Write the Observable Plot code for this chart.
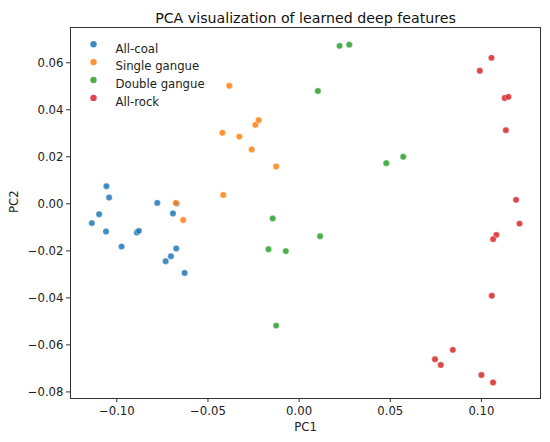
<!DOCTYPE html>
<html>
<head>
<meta charset="utf-8">
<script src="https://cdn.jsdelivr.net/npm/d3@7"></script>
<script src="https://cdn.jsdelivr.net/npm/@observablehq/plot@0.6"></script>
<style>
  html, body { margin: 0; padding: 0; background: #fff; }
  #chart { width: 550px; height: 442px; }
</style>
</head>
<body>
<div id="chart"></div>
<script>
const categories = ["All-coal", "Single gangue", "Double gangue", "All-rock"];
const colors = ["#1f77b4", "#ff7f0e", "#2ca02c", "#d62728"];

const allCoalPC1 = [-0.1057, -0.1042, -0.0778, -0.0672, -0.0692, -0.1097, -0.1137, -0.1059, -0.0974, -0.0890, -0.0879, -0.0674, -0.0703, -0.0732, -0.0628];
const allCoalPC2 = [0.0075, 0.0027, 0.0004, 0.0001, -0.0041, -0.0044, -0.0082, -0.0118, -0.0182, -0.0122, -0.0115, -0.0190, -0.0223, -0.0244, -0.0294];

const singlePC1 = [-0.0383, -0.0421, -0.0328, -0.0240, -0.0222, -0.0260, -0.0126, -0.0416, -0.0676, -0.0636];
const singlePC2 = [0.0502, 0.0302, 0.0286, 0.0336, 0.0356, 0.0231, 0.0159, 0.0038, 0.0004, -0.0069];

const doublePC1 = [-0.0145, -0.0168, -0.0073, -0.0126, 0.0222, 0.0275, 0.0103, 0.0478, 0.0571, 0.0115];
const doublePC2 = [-0.0062, -0.0193, -0.0201, -0.0518, 0.0672, 0.0677, 0.0480, 0.0173, 0.0200, -0.0138];

const rockPC1 = [0.1055, 0.0991, 0.1128, 0.1148, 0.1134, 0.1190, 0.1209, 0.1082, 0.1064, 0.1057, 0.0843, 0.0745, 0.0777, 0.1000, 0.1064];
const rockPC2 = [0.0621, 0.0566, 0.0450, 0.0455, 0.0313, 0.0017, -0.0084, -0.0132, -0.0150, -0.0391, -0.0621, -0.0661, -0.0685, -0.0728, -0.0760];

const xTicks = [-0.10, -0.05, 0.00, 0.05, 0.10];
const yTicks = [-0.08, -0.06, -0.04, -0.02, 0.00, 0.02, 0.04, 0.06];

const series = [
  [allCoalPC1, allCoalPC2],
  [singlePC1, singlePC2],
  [doublePC1, doublePC2],
  [rockPC1, rockPC2]
];
const points = [];
series.forEach(([xs, ys], i) => {
  xs.forEach((x, j) => points.push({pc1: x, pc2: ys[j], cat: categories[i]}));
});

const fmt = d3.format(".2f");
const font = "DejaVu Sans, sans-serif";

const legendMarks = categories.flatMap((c, i) => [
  Plot.dot([c], {frameAnchor: "top-left", dx: 23, dy: 16.7 + i * 17.9, r: 3.2, fill: colors[i], fillOpacity: 0.85}),
  Plot.text([c], {frameAnchor: "top-left", dx: 45, dy: 16.7 + i * 17.9, text: d => d, textAnchor: "start", fontSize: 11.7, fill: "#222"})
]);

const chart = Plot.plot({
  width: 550,
  height: 442,
  marginLeft: 70,
  marginRight: 10,
  marginTop: 27,
  marginBottom: 44,
  style: {fontFamily: font, fontSize: "11.7px", color: "#222", background: "#fff"},
  x: {domain: [-0.1254, 0.1324], ticks: xTicks, tickFormat: fmt, label: null},
  y: {domain: [-0.0828, 0.0750], ticks: yTicks, tickFormat: fmt, label: null},
  color: {domain: categories, range: colors},
  marks: [
    Plot.frame({stroke: "#333", strokeWidth: 1}),
    Plot.axisX({ticks: xTicks, tickFormat: fmt, tickSize: 4, tickPadding: 4, fontSize: 11.7, stroke: "#333", label: null}),
    Plot.axisY({ticks: yTicks, tickFormat: fmt, tickSize: 4, tickPadding: 3, fontSize: 11.7, stroke: "#333", label: null}),
    Plot.dot(points, {x: "pc1", y: "pc2", fill: "cat", r: 3.2, fillOpacity: 0.85, stroke: "#fff", strokeWidth: 0.4}),
    ...legendMarks,
    Plot.text(["PCA visualization of learned deep features"], {frameAnchor: "top", dy: -15, text: d => d, fontSize: 14.2, fill: "#111"}),
    Plot.text(["PC1"], {frameAnchor: "bottom", dy: 32, text: d => d, fontSize: 11.7, fill: "#222"}),
    Plot.text(["PC2"], {frameAnchor: "left", dx: -56, rotate: -90, text: d => d, fontSize: 11.7, fill: "#222"})
  ]
});
document.getElementById("chart").appendChild(chart);
</script>
</body>
</html>
